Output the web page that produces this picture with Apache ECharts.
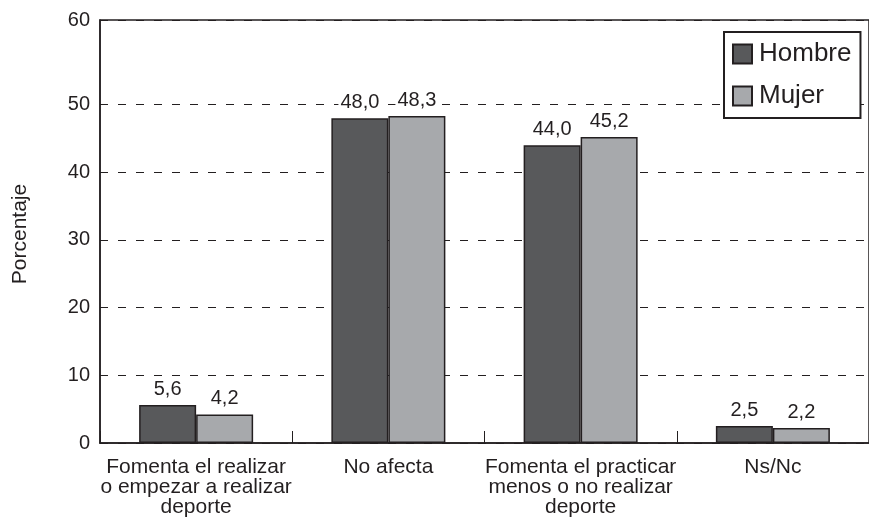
<!DOCTYPE html>
<html>
<head>
<meta charset="utf-8">
<script src="https://cdn.jsdelivr.net/npm/echarts@6/dist/echarts.min.js"></script>
<style>
  html, body { margin: 0; padding: 0; background: #fff; }
  #chart { width: 869px; height: 519px; }
</style>
</head>
<body>
<div id="chart"></div>
<script>
// Categories and values (percent)
const categories = [
  'Fomenta el realizar\no empezar a realizar\ndeporte',
  'No afecta',
  'Fomenta el practicar\nmenos o no realizar\ndeporte',
  'Ns/Nc'
];
const hombre = [5.6, 48.0, 44.0, 2.5];
const mujer = [4.2, 48.3, 45.2, 2.2];
const yTickValues = [0, 10, 20, 30, 40, 50, 62.5];
const yTickLabels = ['0', '10', '20', '30', '40', '50', '60'];

const INK = '#231f20';
const FONT = '"Liberation Sans", Arial, Helvetica, sans-serif';

const fmt = v => v.toFixed(1).replace('.', ',');

const chart = echarts.init(document.getElementById('chart'), null, { renderer: 'canvas' });

const barLabel = {
  show: true,
  position: 'top',
  distance: 6,
  color: INK,
  fontFamily: FONT,
  fontSize: 20,
  backgroundColor: '#fff',
  padding: [0, 2, 0, 2],
  formatter: p => fmt(p.value)
};

chart.setOption({
  animation: false,
  backgroundColor: '#fff',
  grid: {
    left: 100, right: -2, top: 20, bottom: 76,
    show: true, borderColor: INK, borderWidth: 1.5, backgroundColor: 'transparent'
  },
  legend: {
    orient: 'vertical',
    left: 724, top: 32,
    padding: [9, 9, 9, 8],
    borderColor: INK, borderWidth: 2, borderRadius: 0,
    backgroundColor: '#fff',
    itemWidth: 19, itemHeight: 19, itemGap: 16,
    icon: 'rect',
    textStyle: { color: INK, fontFamily: FONT, fontSize: 26, padding: [0, 0, 0, 2] },
    data: ['Hombre', 'Mujer']
  },
  xAxis: {
    type: 'category',
    data: categories,
    boundaryGap: true,
    axisLine: { lineStyle: { color: INK, width: 1.5 } },
    axisTick: { show: true, inside: true, length: 12, lineStyle: { color: INK, width: 1 } },
    axisLabel: {
      interval: 0, margin: 14, color: INK, fontFamily: FONT, fontSize: 21, lineHeight: 20
    }
  },
  yAxis: {
    type: 'value',
    min: 0, max: 62.5,
    axisLine: { show: true, lineStyle: { color: INK, width: 1.5 } },
    axisTick: { show: false, customValues: yTickValues },
    axisLabel: {
      customValues: yTickValues,
      margin: 10, color: INK, fontFamily: FONT, fontSize: 20,
      formatter: v => yTickLabels[yTickValues.indexOf(v)]
    },
    splitLine: { show: true, lineStyle: { color: INK, width: 1, type: [8, 10] } }
  },
  graphic: [{
    type: 'text',
    x: 20, y: 234,
    rotation: Math.PI / 2,
    style: {
      text: 'Porcentaje', fill: INK, font: '21px ' + FONT,
      align: 'center', verticalAlign: 'middle'
    }
  }],
  series: [
    {
      name: 'Hombre', type: 'bar', data: hombre,
      barWidth: 57, barGap: '0%',
      itemStyle: { color: '#58595b', borderColor: INK, borderWidth: 1.5 },
      label: barLabel
    },
    {
      name: 'Mujer', type: 'bar', data: mujer,
      barWidth: 57, barGap: '0%',
      itemStyle: { color: '#a7a9ac', borderColor: INK, borderWidth: 1.5 },
      label: barLabel
    }
  ]
});
</script>
</body>
</html>
